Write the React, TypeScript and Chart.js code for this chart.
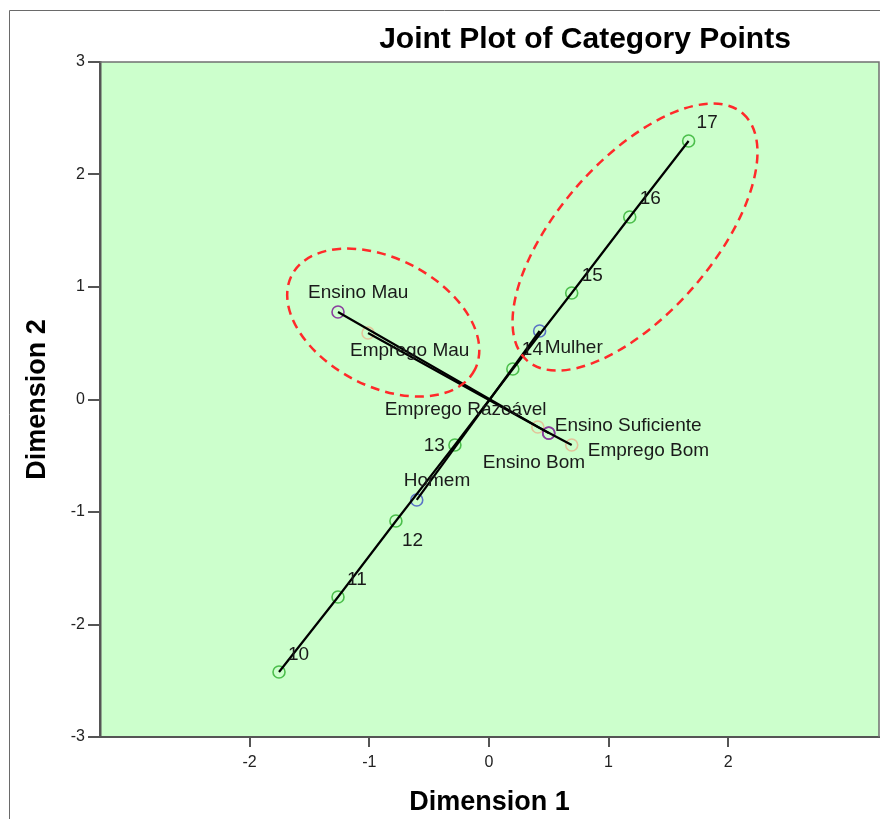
import React, { useEffect, useRef } from "react";
import { Chart, registerables } from "chart.js";

Chart.register(...registerables);

// ---- data ----
const ageLabels = ["10", "11", "12", "13", "14", "15", "16", "17"];
const ageX = [-1.754, -1.261, -0.777, -0.284, 0.2, 0.692, 1.177, 1.669];
const ageY = [-2.422, -1.756, -1.08, -0.404, 0.271, 0.947, 1.622, 2.298];

const genderLabels = ["Homem", "Mulher"];
const genderX = [-0.603, 0.424];
const genderY = [-0.893, 0.609];

const educationLabels = ["Ensino Mau", "Ensino Suficiente", "Ensino Bom"];
const educationX = [-1.261, 0.5, 0.5];
const educationY = [0.778, -0.298, -0.3];

const employmentLabels = ["Emprego Mau", "Emprego Razoável", "Emprego Bom"];
const employmentX = [-1.01, 0.409, 0.692];
const employmentY = [0.591, -0.244, -0.404];

const xTickValues = [-2, -1, 0, 1, 2];
const yTickValues = [-3, -2, -1, 0, 1, 2, 3];

// ---- layout / style (label placement relative to point, in px) ----
const labelOffsets: Record<string, [number, number, CanvasTextAlign]> = {
  "10": [9, -17, "left"],
  "11": [9, -17, "left"],
  "12": [6, 20, "left"],
  "13": [-10, 1, "right"],
  "14": [9, -19, "left"],
  "15": [10, -17, "left"],
  "16": [10, -18, "left"],
  "17": [8, -18, "left"],
  Homem: [-13, -19, "left"],
  Mulher: [5, 17, "left"],
  "Ensino Mau": [-30, -19, "left"],
  "Ensino Suficiente": [6, -7, "left"],
  "Ensino Bom": [-66, 30, "left"],
  "Emprego Mau": [-18, 18, "left"],
  "Emprego Razoável": [-153, -17, "left"],
  "Emprego Bom": [16, 6, "left"],
};

// highlight ellipses: centre in data units, radii in px, rotation in rad
const highlightEllipses = [
  { cx: -0.883, cy: 0.684, rx: 103, ry: 64, rot: 0.478 },
  { cx: 1.221, cy: 1.444, rx: 164, ry: 77, rot: -0.853 },
];

const FONT = '"Liberation Sans", Arial, sans-serif';

const groups = [
  { labels: ageLabels, xs: ageX, ys: ageY, color: "#4cbf4c" },
  { labels: genderLabels, xs: genderX, ys: genderY, color: "#5a74c6" },
  { labels: educationLabels, xs: educationX, ys: educationY, color: "#8a3f9e" },
  { labels: employmentLabels, xs: employmentX, ys: employmentY, color: "#e2c49a" },
];

const decorPlugin = {
  id: "decor",
  beforeDraw(chart: any) {
    const { ctx, chartArea: a } = chart;
    ctx.save();
    ctx.fillStyle = "#ffffff";
    ctx.fillRect(0, 0, chart.width, chart.height);
    ctx.strokeStyle = "#6a6a6a";
    ctx.lineWidth = 1;
    ctx.beginPath();
    ctx.moveTo(9.5, chart.height);
    ctx.lineTo(9.5, 10.5);
    ctx.lineTo(chart.width, 10.5);
    ctx.stroke();
    ctx.fillStyle = "#ccffcc";
    ctx.fillRect(a.left, a.top, a.right - a.left, a.bottom - a.top);
    ctx.restore();
  },
  afterDatasetsDraw(chart: any) {
    const { ctx } = chart;
    const xs = chart.scales.x;
    const ys = chart.scales.y;
    ctx.save();
    // labels
    ctx.font = `19px ${FONT}`;
    ctx.fillStyle = "#1a1a1a";
    ctx.textBaseline = "middle";
    groups.forEach((g) => {
      g.labels.forEach((lab, i) => {
        const px = xs.getPixelForValue(g.xs[i]);
        const py = ys.getPixelForValue(g.ys[i]);
        const off = labelOffsets[lab] || [6, -14, "left"];
        ctx.textAlign = off[2];
        ctx.fillText(lab, px + off[0], py + off[1]);
      });
    });
    // ellipses
    ctx.strokeStyle = "#ff2a2a";
    ctx.lineWidth = 2.5;
    ctx.setLineDash([9, 6]);
    highlightEllipses.forEach((e) => {
      const cx = xs.getPixelForValue(e.cx);
      const cy = ys.getPixelForValue(e.cy);
      ctx.beginPath();
      ctx.ellipse(cx, cy, e.rx, e.ry, e.rot, 0, Math.PI * 2);
      ctx.stroke();
    });
    ctx.restore();
  },
  afterDraw(chart: any) {
    const { ctx, chartArea: a } = chart;
    ctx.save();
    ctx.strokeStyle = "#707070";
    ctx.lineWidth = 1.5;
    ctx.beginPath();
    ctx.moveTo(a.left, a.top);
    ctx.lineTo(a.right, a.top);
    ctx.lineTo(a.right, a.bottom);
    ctx.stroke();
    ctx.fillStyle = "#000";
    ctx.textAlign = "center";
    ctx.textBaseline = "middle";
    ctx.font = `bold 30px ${FONT}`;
    ctx.fillText("Joint Plot of Category Points", 585, 40);
    ctx.font = `bold 27px ${FONT}`;
    ctx.fillText("Dimension 1", (a.left + a.right) / 2, 803);
    ctx.translate(38, (a.top + a.bottom) / 2);
    ctx.rotate(-Math.PI / 2);
    ctx.fillText("Dimension 2", 0, 0);
    ctx.restore();
  },
};

export default function App() {
  const ref = useRef<HTMLCanvasElement | null>(null);

  useEffect(() => {
    document.body.style.margin = "0";
    if (!ref.current) return;

    const lineSets = groups.map((g) => ({
      type: "scatter" as const,
      data: g.xs.map((x, i) => ({ x, y: g.ys[i] })),
      showLine: true,
      borderColor: "#000",
      borderWidth: 2.2,
      pointRadius: 0,
      order: 0,
    }));
    const pointSets = groups.map((g) => ({
      type: "scatter" as const,
      data: g.xs.map((x, i) => ({ x, y: g.ys[i] })),
      showLine: false,
      pointRadius: 6,
      pointBorderWidth: 1.6,
      pointBackgroundColor: "rgba(0,0,0,0)",
      pointBorderColor: g.color,
      order: 1,
    }));

    const chart = new Chart(ref.current, {
      type: "scatter",
      data: { datasets: [...lineSets, ...pointSets] as any },
      plugins: [decorPlugin],
      options: {
        animation: false,
        responsive: false,
        events: [],
        layout: { autoPadding: false, padding: { top: 62, right: 1, left: 0, bottom: 0 } },
        plugins: { legend: { display: false }, tooltip: { enabled: false } },
        scales: {
          x: {
            type: "linear",
            min: -3.25,
            max: 3.26,
            afterBuildTicks: (s: any) => {
              s.ticks = xTickValues.map((v) => ({ value: v }));
            },
            afterFit: (s: any) => {
              s.height = 82;
            },
            ticks: { font: { size: 16, family: FONT }, color: "#222", padding: 6 },
            grid: { drawOnChartArea: false, drawTicks: true, tickLength: 10, color: "#555", lineWidth: 2 },
            border: { display: true, color: "#555", width: 2 },
          },
          y: {
            type: "linear",
            min: -3,
            max: 3,
            afterBuildTicks: (s: any) => {
              s.ticks = yTickValues.map((v) => ({ value: v }));
            },
            afterFit: (s: any) => {
              s.width = 100;
            },
            ticks: { font: { size: 16, family: FONT }, color: "#222", padding: 3 },
            grid: { drawOnChartArea: false, drawTicks: true, tickLength: 12, color: "#555", lineWidth: 2 },
            border: { display: true, color: "#555", width: 2.5 },
          },
        },
      } as any,
    });
    return () => chart.destroy();
  }, []);

  return (
    <div style={{ width: 880, height: 819, overflow: "hidden" }}>
      <canvas ref={ref} width={880} height={819} style={{ display: "block" }} />
    </div>
  );
}
